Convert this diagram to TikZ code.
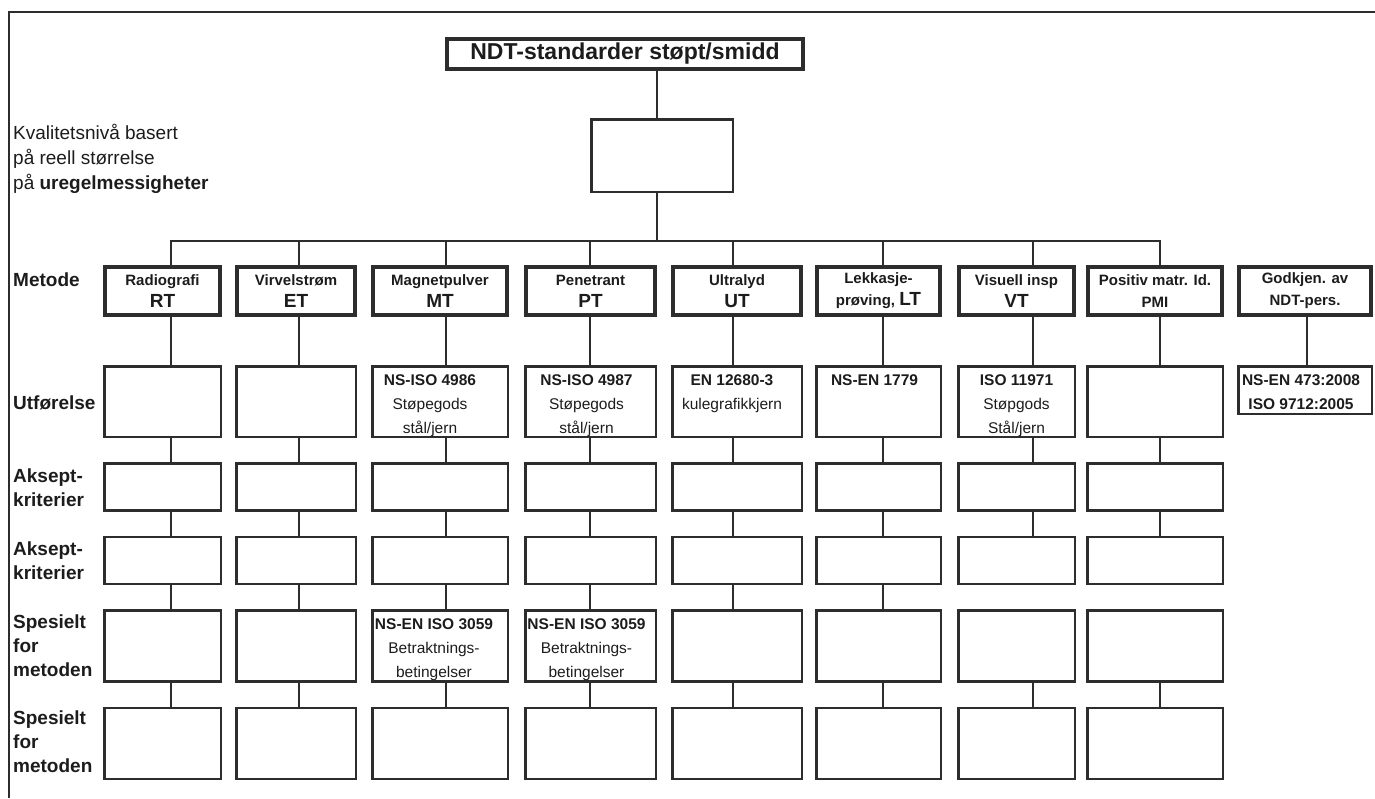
\documentclass[tikz,border=0pt]{standalone}
\usepackage{fontspec}
\setmainfont{Liberation Sans}
\usetikzlibrary{positioning}
\definecolor{ink}{RGB}{45,45,45}
\definecolor{inktext}{RGB}{28,28,28}
\newcommand{\bigtag}[1]{{\fontsize{19}{22}\selectfont #1}}

\begin{document}
\begin{tikzpicture}[
    x=1pt, y=-1pt,
    every node/.style={text=inktext},
    headbox/.style={draw=ink, line width=4pt, inner sep=0pt, minimum width=356pt, minimum height=30pt, font=\fontsize{23}{26}\selectfont\bfseries},
    method/.style={draw=ink, line width=4pt, inner sep=0pt, minimum height=48pt, align=center, font=\fontsize{15}{22}\selectfont\bfseries},
    cell/.style={draw=ink, line width=2.5pt, inner sep=0pt},
    celltext/.style={inner sep=0pt, align=center, font=\fontsize{15.5}{24}\selectfont},
    rowhead/.style={anchor=west, inner sep=0pt, align=left, font=\fontsize{19}{24}\selectfont\bfseries},
    link/.style={draw=ink, line width=2pt, line cap=rect},
    frame/.style={draw=ink, line width=2.5pt}
]
\useasboundingbox (0,0) rectangle (1375,798);

% page frame (top and left edge only)
\coordinate (frame-bl) at (9,798);
\coordinate (frame-tl) at (9,12);
\coordinate (frame-tr) at (1375,12);
\draw[frame] (frame-bl) -- (frame-tl) -- (frame-tr);

% top of the tree
\node[headbox] (title) at (625,54) {NDT-standarder støpt/smidd};
\node[cell, minimum width=141.5pt, minimum height=72.5pt] (group) at (662,155.5) {};
\coordinate (trunk) at (657,241);
\draw[link] (title.south -| trunk) -- (group.north -| trunk);
\draw[link] (group.south -| trunk) -- (trunk);

% row headings
\node[rowhead, font=\fontsize{19}{25}\selectfont] (level) at (13,159) {Kvalitetsnivå basert\\på reell størrelse\\på \textbf{uregelmessigheter}};
\node[rowhead] (r-method) at (13,280) {Metode};
\node[rowhead] (r-exec) at (13,403) {Utførelse};
\node[rowhead] (r-acc1) at (13,488) {Aksept-\\kriterier};
\node[rowhead] (r-acc2) at (13,561) {Aksept-\\kriterier};
\node[rowhead] (r-spec1) at (13,646) {Spesielt\\for\\metoden};
\node[rowhead] (r-spec2) at (13,742) {Spesielt\\for\\metoden};

% method boxes
\node[method, minimum width=115pt] (rt) at (162.5,291) {Radiografi\\\bigtag{RT}};
\node[method, minimum width=118pt] (et) at (296,291) {Virvelstrøm\\\bigtag{ET}};
\node[method, minimum width=134pt] (mt) at (440,291) {Magnetpulver\\\bigtag{MT}};
\node[method, minimum width=129pt] (pt) at (590.5,291) {Penetrant\\\bigtag{PT}};
\node[method, minimum width=128pt] (ut) at (737,291) {Ultralyd\\\bigtag{UT}};
\node[method, minimum width=123pt] (lt) at (878.5,291) {Lekkasje-\\prøving, \bigtag{LT}};
\node[method, minimum width=115pt] (vt) at (1016.5,291) {Visuell insp\\\bigtag{VT}};
\node[method, minimum width=134pt] (pmi) at (1155,291) {Positiv matr. Id.\\PMI};
\node[method, minimum width=132pt] (gk) at (1305,291) {Godkjen. av\\NDT-pers.};

% standard boxes below each method
\foreach \c/\x/\w in {rt/171/119, et/299/122, mt/446/138, pt/590/133, ut/733/132, lt/883/127, vt/1033/119, pmi/1160/138}{
  \coordinate (\c-x) at (\x,241);
  \node[cell, minimum width=\w pt-2.5pt, minimum height=70.5pt, below=48pt of \c] (\c1) {};
  \node[cell, minimum width=\w pt-2.5pt, minimum height=47pt, below=24pt of \c1] (\c2) {};
  \node[cell, minimum width=\w pt-2.5pt, minimum height=47pt, below=24pt of \c2] (\c3) {};
  \node[cell, minimum width=\w pt-2.5pt, minimum height=71pt, below=24pt of \c3] (\c4) {};
  \node[cell, minimum width=\w pt-2.5pt, minimum height=71pt, below=24pt of \c4] (\c5) {};
  \draw[link] (\c-x) -- (\c-x |- \c.north);
  \draw[link] (\c.south -| \c-x) -- (\c1.north -| \c-x);
  \draw[link] (\c1.south -| \c-x) -- (\c2.north -| \c-x);
  \draw[link] (\c2.south -| \c-x) -- (\c3.north -| \c-x);
  \draw[link] (\c4.south -| \c-x) -- (\c5.north -| \c-x);
}
\foreach \c in {rt, et, mt, pt, ut, lt}{
  \draw[link] (\c3.south -| \c-x) -- (\c4.north -| \c-x);
}
\draw[link] (rt-x) -- (pmi-x);

% personnel column
\coordinate (gk-x) at (1307,241);
\node[cell, minimum width=133.5pt, minimum height=47.5pt, below=48pt of gk] (gk1) {};
\draw[link] (gk.south -| gk-x) -- (gk1.north -| gk-x);

% texts in the boxes
\node[celltext, below=9pt of mt1.north, xshift=-10pt] (mt1-txt) {\textbf{NS-ISO 4986}\\Støpegods\\stål/jern};
\node[celltext, below=9pt of pt1.north, xshift=-4pt] (pt1-txt) {\textbf{NS-ISO 4987}\\Støpegods\\stål/jern};
\node[celltext, below=9pt of ut1.north, xshift=-5pt] (ut1-txt) {\textbf{EN 12680-3}\\kulegrafikkjern};
\node[celltext, below=9pt of lt1.north, xshift=-4pt] (lt1-txt) {\textbf{NS-EN 1779}};
\node[celltext, below=9pt of vt1.north] (vt1-txt) {\textbf{ISO 11971}\\Støpgods\\Stål/jern};
\node[celltext, below=9pt of gk1.north, xshift=-4pt] (gk1-txt) {\textbf{NS-EN 473:2008}\\\textbf{ISO 9712:2005}};
\node[celltext, below=9pt of mt4.north, xshift=-6pt] (mt4-txt) {\textbf{NS-EN ISO 3059}\\Betraktnings-\\betingelser};
\node[celltext, below=9pt of pt4.north, xshift=-4pt] (pt4-txt) {\textbf{NS-EN ISO 3059}\\Betraktnings-\\betingelser};

\end{tikzpicture}
\end{document}
